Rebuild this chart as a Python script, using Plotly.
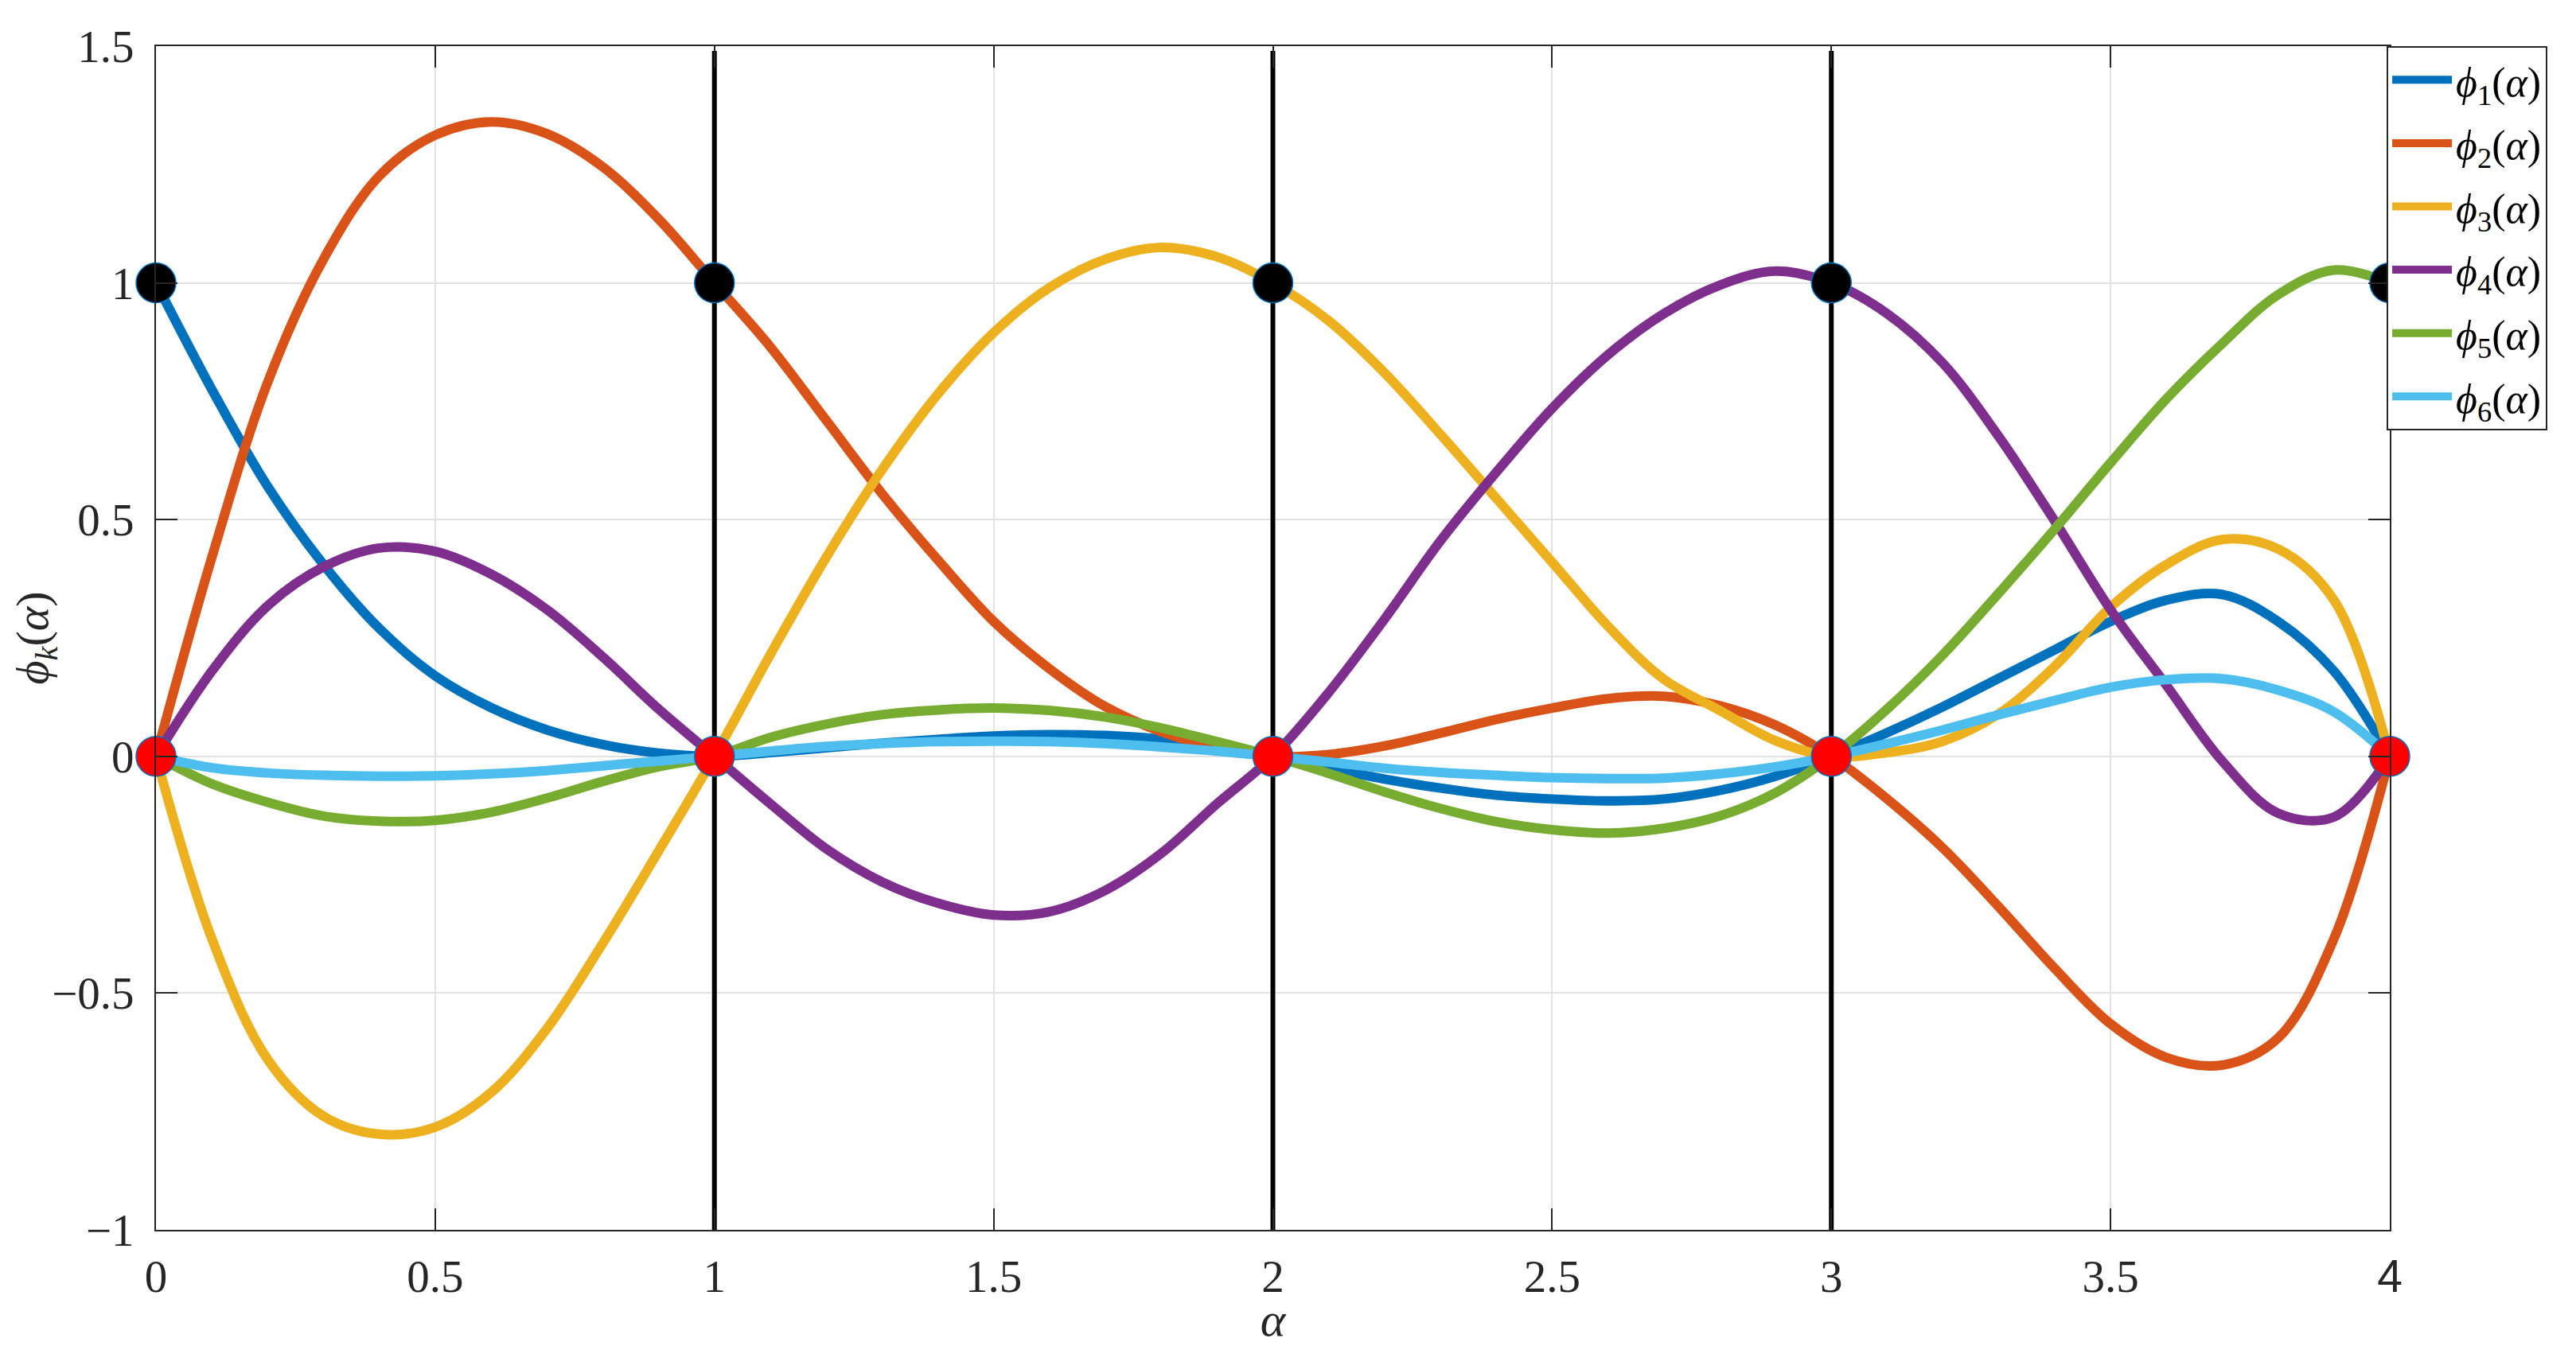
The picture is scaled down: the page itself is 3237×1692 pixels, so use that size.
import plotly.graph_objects as go

# ---------------- data ----------------
alpha = [0.0, 0.1, 0.2, 0.3, 0.4, 0.5, 0.6, 0.7, 0.8, 0.9,
         1.0, 1.1, 1.2, 1.3, 1.4, 1.5, 1.6, 1.7, 1.8, 1.9,
         2.0, 2.1, 2.2, 2.3, 2.4, 2.5, 2.6, 2.7, 2.8, 2.9,
         3.0, 3.1, 3.2, 3.3, 3.4, 3.5, 3.6, 3.7, 3.8, 3.9, 4.0]

phi1 = [1.0, 0.775, 0.57, 0.405, 0.27, 0.17, 0.103, 0.056, 0.025, 0.007,
        0.0, 0.008, 0.018, 0.028, 0.036, 0.043, 0.046, 0.044, 0.036, 0.02,
        0.0, -0.025, -0.048, -0.067, -0.082, -0.09, -0.094, -0.09, -0.072, -0.042,
        0.0, 0.05, 0.105, 0.165, 0.225, 0.285, 0.33, 0.342, 0.285, 0.18, 0.0]

phi2 = [0.0, 0.42, 0.79, 1.05, 1.226, 1.312, 1.34, 1.315, 1.245, 1.135,
        1.0, 0.865, 0.71, 0.555, 0.415, 0.285, 0.185, 0.105, 0.052, 0.018,
        0.0, 0.004, 0.022, 0.049, 0.078, 0.102, 0.122, 0.127, 0.107, 0.066,
        0.0, -0.09, -0.194, -0.318, -0.448, -0.565, -0.636, -0.652, -0.595, -0.385, 0.0]

phi3 = [0.0, -0.385, -0.64, -0.76, -0.798, -0.783, -0.71, -0.575, -0.395, -0.20,
        0.0, 0.215, 0.42, 0.605, 0.765, 0.895, 0.99, 1.05, 1.075, 1.055,
        1.0, 0.92, 0.81, 0.68, 0.545, 0.41, 0.275, 0.163, 0.097, 0.033,
        0.0, 0.008, 0.032, 0.09, 0.19, 0.315, 0.405, 0.458, 0.438, 0.33, 0.0]

phi4 = [0.0, 0.18, 0.318, 0.40, 0.44, 0.433, 0.385, 0.31, 0.21, 0.10,
        0.0, -0.10, -0.195, -0.265, -0.31, -0.335, -0.328, -0.283, -0.205, -0.10,
        0.0, 0.135, 0.29, 0.455, 0.60, 0.735, 0.848, 0.935, 0.995, 1.025,
        1.0, 0.935, 0.83, 0.675, 0.497, 0.31, 0.15, -0.01, -0.12, -0.128, 0.0]

phi5 = [0.0, -0.058, -0.097, -0.126, -0.137, -0.135, -0.118, -0.088, -0.053, -0.022,
        0.0, 0.04, 0.068, 0.088, 0.098, 0.102, 0.097, 0.083, 0.06, 0.031,
        0.0, -0.036, -0.075, -0.11, -0.138, -0.155, -0.162, -0.152, -0.126, -0.077,
        0.0, 0.10, 0.215, 0.345, 0.48, 0.62, 0.755, 0.872, 0.975, 1.027, 1.0]

phi6 = [0.0, -0.024, -0.035, -0.04, -0.042, -0.041, -0.037, -0.03, -0.02, -0.01,
        0.0, 0.011, 0.021, 0.027, 0.031, 0.032, 0.031, 0.027, 0.02, 0.011,
        0.0, -0.012, -0.025, -0.034, -0.04, -0.045, -0.047, -0.046, -0.037, -0.022,
        0.0, 0.027, 0.056, 0.088, 0.118, 0.146, 0.162, 0.164, 0.14, 0.094, 0.0]

series = [phi1, phi2, phi3, phi4, phi5, phi6]
series_names = ["1", "2", "3", "4", "5", "6"]
colors = ["#0072BD", "#D95319", "#EDB120", "#7E2F8E", "#77AC30", "#4DBEEE"]

nodes = [0, 1, 2, 3, 4]
node_one = [1, 1, 1, 1, 1]
node_zero = [0, 0, 0, 0, 0]

vline_x = [1, 2, 3]
vline_y = [-1.0, 1.49]

xtick_vals = [0, 0.5, 1, 1.5, 2, 2.5, 3, 3.5, 4]
xtick_text = ["0", "0.5", "1", "1.5", "2", "2.5", "3", "3.5",
              '<span style="font-family:\'Liberation Sans\', Arial, sans-serif">4</span>']
ytick_vals = [-1, -0.5, 0, 0.5, 1, 1.5]
ytick_text = ["\u22121", "\u22120.5", "0", "0.5", "1", "1.5"]

SERIF = "Liberation Serif, Times New Roman, Times, serif"

# ---------------- figure ----------------
fig = go.Figure()

for vx in vline_x:
    fig.add_trace(go.Scatter(x=[vx, vx], y=vline_y, mode="lines",
                             line=dict(color="black", width=6),
                             showlegend=False, hoverinfo="skip"))

for i, (ys, nm, c) in enumerate(zip(series, series_names, colors)):
    fig.add_trace(go.Scatter(
        x=alpha, y=ys, mode="lines",
        line=dict(color=c, width=12, shape="spline", smoothing=1.0),
        name="<i>\u03d5</i><sub>" + nm + "</sub>(<i>\u03b1</i>)",
        legendgroup="g" + nm,
    ))

fig.add_trace(go.Scatter(x=nodes, y=node_one, mode="markers",
                         marker=dict(size=50, color="black",
                                     line=dict(color="#0072BD", width=1.5)),
                         showlegend=False, hoverinfo="skip", cliponaxis=False))
fig.add_trace(go.Scatter(x=nodes, y=node_zero, mode="markers",
                         marker=dict(size=50, color="#FF0000",
                                     line=dict(color="#0072BD", width=1.5)),
                         showlegend=False, hoverinfo="skip", cliponaxis=False))

axis_common = dict(
    ticks="inside", ticklen=27, tickwidth=2, tickcolor="#262626",
    showline=True, linecolor="#262626", linewidth=2, mirror="ticks",
    showgrid=True, gridcolor="#e2e2e2", gridwidth=2, zeroline=False,
    automargin=False,
    tickfont=dict(family=SERIF, size=57, color="#262626"),
)

# page body has an 8px default margin, so the figure is drawn 8px in from top-left
fig.update_layout(
    template="none",
    width=3229, height=1684, autosize=False,
    margin=dict(l=188, r=234, t=50, b=146, autoexpand=False),
    paper_bgcolor="white", plot_bgcolor="white",
    font=dict(family=SERIF, color="#262626"),
    xaxis=dict(range=[0, 4], tickmode="array", tickvals=xtick_vals, ticktext=xtick_text,
               ticklabelstandoff=8,
               title=dict(text="<i>\u03b1</i>", font=dict(size=60, family=SERIF),
                          standoff=5),
               **axis_common),
    yaxis=dict(range=[-1, 1.5], tickmode="array", tickvals=ytick_vals, ticktext=ytick_text,
               ticklabelstandoff=14,
               title=dict(text="<i>\u03d5</i><sub><i>k</i></sub>(<i>\u03b1</i>)",
                          font=dict(size=58, family=SERIF), standoff=20),
               **axis_common),
    legend=dict(x=0.9986, xanchor="left", y=1.0, yanchor="top",
                bgcolor="white", bordercolor="#262626", borderwidth=2,
                font=dict(family=SERIF, size=52, color="#000000"),
                itemwidth=75, traceorder="grouped", tracegroupgap=9),
    showlegend=True,
)

fig.write_html("out.html")
